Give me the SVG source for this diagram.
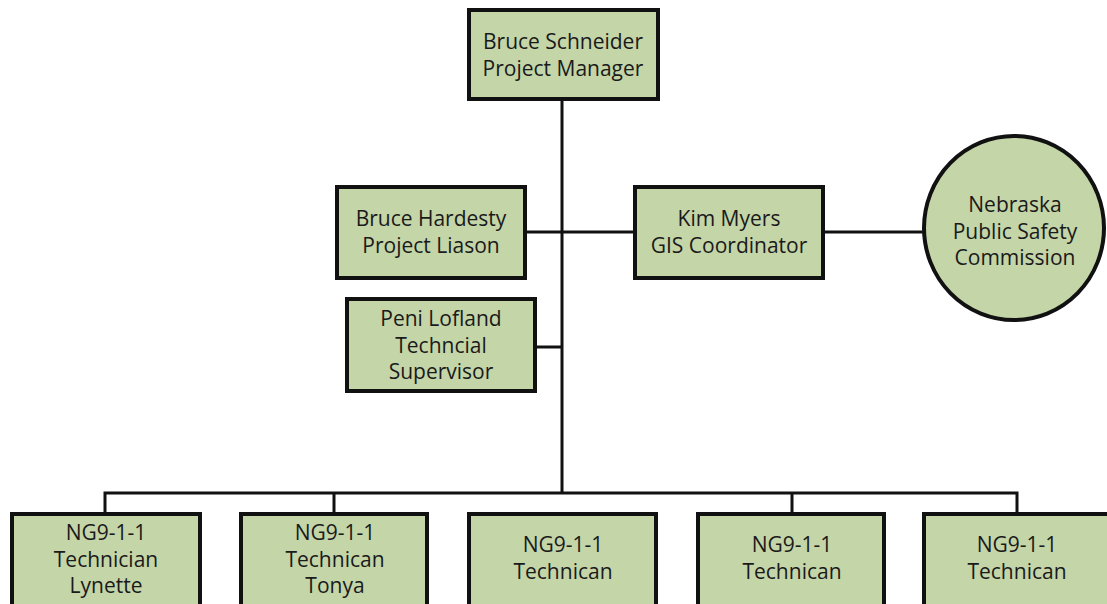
<svg xmlns="http://www.w3.org/2000/svg" width="1107" height="604" viewBox="0 0 1107 604">
<style>
.box{fill:#c4d5a8;stroke:#111;stroke-width:4}
.ln{stroke:#111;stroke-width:3;fill:none}
text{font-family:"Open Sans","Liberation Sans",sans-serif;font-size:21px;fill:#1a1a1a;text-anchor:middle}
</style>
<rect width="1107" height="604" fill="#fff"/>
<g id="connectors">
<line class="ln" x1="562" y1="99" x2="562" y2="493"/>
<line class="ln" x1="525" y1="232" x2="635" y2="232"/>
<line class="ln" x1="823" y1="232" x2="924" y2="232"/>
<line class="ln" x1="535" y1="347" x2="562" y2="347"/>
<polyline class="ln" points="105,512 105,493 1017,493 1017,512"/>
<line class="ln" x1="334" y1="493" x2="334" y2="512"/>
<line class="ln" x1="792" y1="493" x2="792" y2="512"/>
</g>
<g id="node-schneider">
<rect class="box" x="469" y="10" width="189" height="89"/>
<text x="563" y="49">Bruce Schneider<tspan x="563" dy="26.5">Project Manager</tspan></text>
</g>
<g id="node-hardesty">
<rect class="box" x="337" y="187" width="188" height="91"/>
<text x="431" y="226">Bruce Hardesty<tspan x="431" dy="26.5">Project Liason</tspan></text>
</g>
<g id="node-myers">
<rect class="box" x="635" y="187" width="188" height="91"/>
<text x="729" y="226">Kim Myers<tspan x="729" dy="26.5">GIS Coordinator</tspan></text>
</g>
<g id="node-npsc">
<ellipse class="box" cx="1014" cy="228" rx="90" ry="92" stroke-width="3"/>
<text x="1015" y="212">Nebraska<tspan x="1015" dy="26.5">Public Safety</tspan><tspan x="1015" dy="26.5">Commission</tspan></text>
</g>
<g id="node-lofland">
<rect class="box" x="347" y="299" width="188" height="92"/>
<text x="441" y="326">Peni Lofland<tspan x="441" dy="26.5">Techncial</tspan><tspan x="441" dy="26.5">Supervisor</tspan></text>
</g>
<g id="node-lynette">
<rect class="box" x="12" y="514" width="188" height="100"/>
<text x="106" y="540">NG9-1-1<tspan x="106" dy="26.5">Technician</tspan><tspan x="106" dy="26.5">Lynette</tspan></text>
</g>
<g id="node-tonya">
<rect class="box" x="241" y="514" width="186" height="100"/>
<text x="335" y="540">NG9-1-1<tspan x="335" dy="26.5">Technican</tspan><tspan x="335" dy="26.5">Tonya</tspan></text>
</g>
<g id="node-tech3">
<rect class="box" x="469" y="514" width="187" height="100"/>
<text x="563" y="552">NG9-1-1<tspan x="563" dy="26.5">Technican</tspan></text>
</g>
<g id="node-tech4">
<rect class="box" x="698" y="514" width="186" height="100"/>
<text x="792" y="552">NG9-1-1<tspan x="792" dy="26.5">Technican</tspan></text>
</g>
<g id="node-tech5">
<rect class="box" x="924" y="514" width="188" height="100"/>
<text x="1017" y="552">NG9-1-1<tspan x="1017" dy="26.5">Technican</tspan></text>
</g>
</svg>
